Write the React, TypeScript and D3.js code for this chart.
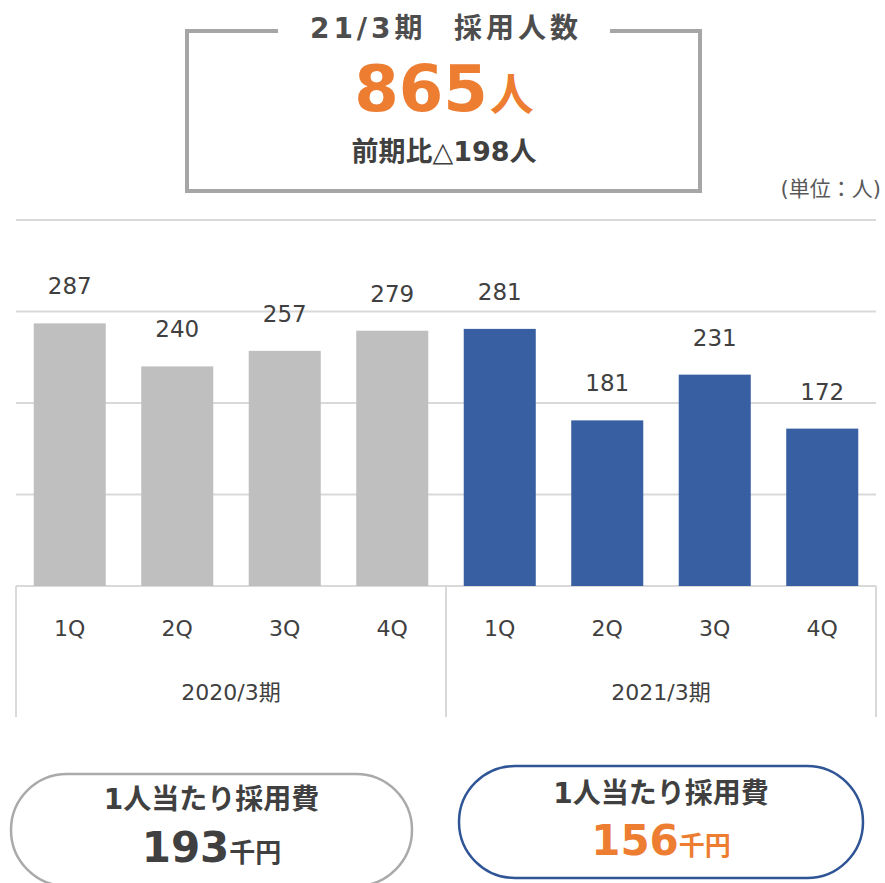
import React, { useEffect, useRef } from "react";
import * as d3 from "d3";

// quarterly hires, 2020/3 period and 2021/3 period
const quarters = ["1Q", "2Q", "3Q", "4Q"];
const periods = ["2020/3期", "2021/3期"];
const hires2020 = [287, 240, 257, 279];
const hires2021 = [281, 181, 231, 172];
const yTicks = [0, 100, 200, 300, 400];

const totalTitle = "21/3期  採用人数";
const totalValue = "865";
const totalUnit = "人";
const totalDiff = "前期比△198人";
const unitNote = "(単位：人)";
const costTitle = "1人当たり採用費";
const costValues = ["193", "156"];
const costUnit = "千円";

const FONT = "'DejaVu Sans', 'Noto Sans CJK JP', sans-serif";
const GRAY = "#bfbfbf";
const BLUE = "#375fa2";
const ORANGE = "#ed7d31";
const TEXT = "#404040";

function App() {
  const ref = useRef<SVGSVGElement>(null);

  useEffect(() => {
    const svg = d3.select(ref.current);
    svg.selectAll("*").remove();

    const rows = [
      ...hires2020.map((v, i) => ({ key: "a" + i, q: quarters[i], v, color: GRAY })),
      ...hires2021.map((v, i) => ({ key: "b" + i, q: quarters[i], v, color: BLUE })),
    ];

    const left = 16,
      right = 876,
      top = 220,
      bottom = 586;

    const x = d3
      .scaleBand()
      .domain(rows.map((d) => d.key))
      .range([left, right])
      .paddingInner(0.33)
      .paddingOuter(0.165);
    const y = d3.scaleLinear().domain([0, 400]).range([bottom, top]);

    // gridlines
    svg
      .append("g")
      .selectAll("line")
      .data(yTicks)
      .enter()
      .append("line")
      .attr("x1", left)
      .attr("x2", right)
      .attr("y1", (d) => y(d))
      .attr("y2", (d) => y(d))
      .attr("stroke", "#d9d9d9")
      .attr("stroke-width", 2);

    // bars
    svg
      .append("g")
      .selectAll("rect")
      .data(rows)
      .enter()
      .append("rect")
      .attr("x", (d) => x(d.key)!)
      .attr("width", x.bandwidth())
      .attr("y", (d) => y(d.v))
      .attr("height", (d) => y(0) - y(d.v))
      .attr("fill", (d) => d.color);

    // value labels
    svg
      .append("g")
      .selectAll("text")
      .data(rows)
      .enter()
      .append("text")
      .attr("x", (d) => x(d.key)! + x.bandwidth() / 2)
      .attr("y", (d) => y(d.v) - 29)
      .attr("text-anchor", "middle")
      .attr("font-family", FONT)
      .attr("font-size", 23)
      .attr("fill", TEXT)
      .text((d) => d.v);

    // category axis: quarters and periods
    svg
      .append("g")
      .selectAll("text")
      .data(rows)
      .enter()
      .append("text")
      .attr("x", (d) => x(d.key)! + x.bandwidth() / 2)
      .attr("y", 636)
      .attr("text-anchor", "middle")
      .attr("font-family", FONT)
      .attr("font-size", 22)
      .attr("fill", TEXT)
      .text((d) => d.q);

    const mid = (x("a3")! + x.bandwidth() + x("b0")!) / 2;
    const seps = [left, mid, right];
    svg
      .append("g")
      .selectAll("line")
      .data(seps)
      .enter()
      .append("line")
      .attr("x1", (d) => d)
      .attr("x2", (d) => d)
      .attr("y1", bottom)
      .attr("y2", 717)
      .attr("stroke", "#d9d9d9")
      .attr("stroke-width", 2);

    svg
      .append("g")
      .selectAll("text")
      .data(periods)
      .enter()
      .append("text")
      .attr("x", (d, i) => (seps[i] + seps[i + 1]) / 2)
      .attr("y", 700)
      .attr("text-anchor", "middle")
      .attr("font-family", FONT)
      .attr("font-size", 22)
      .attr("fill", TEXT)
      .text((d) => d);

    // unit note
    svg
      .append("text")
      .attr("x", 881)
      .attr("y", 196)
      .attr("text-anchor", "end")
      .attr("font-family", FONT)
      .attr("font-size", 21)
      .attr("fill", "#595959")
      .text(unitNote);

    // headline box
    const box = svg.append("g");
    box
      .append("path")
      .attr("d", "M278,31 H187 V191 H700 V31 H610")
      .attr("fill", "none")
      .attr("stroke", "#a6a6a6")
      .attr("stroke-width", 4);
    box
      .append("text")
      .attr("x", 446)
      .attr("y", 38)
      .attr("text-anchor", "middle")
      .attr("font-family", FONT)
      .attr("font-weight", "bold")
      .attr("font-size", 28)
      .attr("letter-spacing", 4)
      .style("white-space", "pre")
      .attr("fill", "#4d4d4d")
      .text(totalTitle);
    const big = box
      .append("text")
      .attr("x", 444)
      .attr("y", 111)
      .attr("text-anchor", "middle")
      .attr("font-family", FONT)
      .attr("font-weight", "bold")
      .attr("fill", ORANGE);
    big.append("tspan").attr("font-size", 64).text(totalValue);
    big.append("tspan").attr("font-size", 44).attr("dx", 2).text(totalUnit);
    box
      .append("text")
      .attr("x", 444)
      .attr("y", 161)
      .attr("text-anchor", "middle")
      .attr("font-family", FONT)
      .attr("font-weight", "bold")
      .attr("font-size", 27)
      .attr("fill", TEXT)
      .text(totalDiff);

    // cost pills
    const pills = [
      { x0: 11, x1: 412, cy: 830, stroke: "#aaaaaa", color: TEXT, titleY: 809, valueY: 862 },
      { x0: 459, x1: 863, cy: 822, stroke: "#2f5597", color: ORANGE, titleY: 803, valueY: 855 },
    ];
    pills.forEach((p, i) => {
      const g = svg.append("g");
      const cx = (p.x0 + p.x1) / 2;
      g.append("rect")
        .attr("x", p.x0)
        .attr("y", p.cy - 56)
        .attr("width", p.x1 - p.x0)
        .attr("height", 112)
        .attr("rx", 56)
        .attr("ry", 56)
        .attr("fill", "#fff")
        .attr("stroke", p.stroke)
        .attr("stroke-width", 2.5);
      g.append("text")
        .attr("x", cx)
        .attr("y", p.titleY)
        .attr("text-anchor", "middle")
        .attr("font-family", FONT)
        .attr("font-weight", "bold")
        .attr("font-size", 28)
        .attr("fill", TEXT)
        .text(costTitle);
      const t = g
        .append("text")
        .attr("x", cx)
        .attr("y", p.valueY)
        .attr("text-anchor", "middle")
        .attr("font-family", FONT)
        .attr("font-weight", "bold")
        .attr("fill", p.color);
      t.append("tspan").attr("font-size", 42).text(costValues[i]);
      t.append("tspan").attr("font-size", 26).text(costUnit);
    });
  }, []);

  return (
    <svg
      ref={ref}
      width={885}
      height={883}
      style={{ position: "absolute", left: 0, top: 0, background: "#fff" }}
    />
  );
}

export default App;
